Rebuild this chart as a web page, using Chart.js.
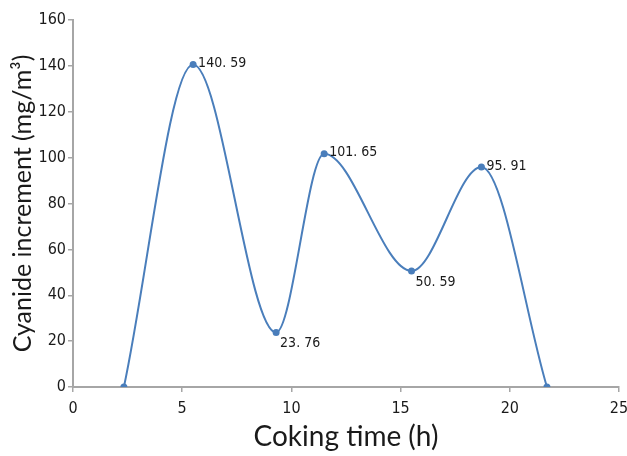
<!DOCTYPE html>
<html>
<head>
<meta charset="utf-8">
<script src="https://cdn.jsdelivr.net/npm/chart.js@4.4.1/dist/chart.umd.min.js"></script>
<style>
  html, body { margin: 0; padding: 0; background: #fff; }
  #wrap { width: 627px; height: 456px; }
</style>
</head>
<body>
<div id="wrap"><canvas id="c" width="627" height="456"></canvas></div>
<script>
// Coking time (h) and cyanide increment (mg/m³)
const cokingTime = [2.33, 5.5, 9.3, 11.5, 15.5, 18.7, 21.7];
const cyanideIncrement = [0, 140.59, 23.76, 101.65, 50.59, 95.91, 0];
const xTicks = [0, 5, 10, 15, 20, 25];
const yTicks = [0, 20, 40, 60, 80, 100, 120, 140, 160];

const tickFont = "'Liberation Sans Narrow', 'DejaVu Sans Condensed', Arial, sans-serif";
const titleFont = "Lato, 'Open Sans', sans-serif";
const lineColor = '#4A7EBB';
const axisColor = '#A6A6A6';

// where each value label sits relative to its point
const labelSide = { 1: 'right', 2: 'below', 3: 'right', 4: 'below', 5: 'right' };

const valueLabels = {
  id: 'valueLabels',
  afterDatasetsDraw(chart) {
    const ctx = chart.ctx;
    const meta = chart.getDatasetMeta(0);
    ctx.save();
    ctx.font = "14px " + tickFont;
    ctx.fillStyle = '#1a1a1a';
    ctx.textBaseline = 'middle';
    ctx.textAlign = 'left';
    meta.data.forEach((pt, i) => {
      const side = labelSide[i];
      if (!side) return;
      const txt = cyanideIncrement[i].toFixed(2).replace('.', '. ');
      if (side === 'right') {
        ctx.fillText(txt, pt.x + 5, pt.y - 1);
      } else {
        ctx.fillText(txt, pt.x + 4, pt.y + 11);
      }
    });
    ctx.restore();
  }
};

new Chart(document.getElementById('c'), {
  type: 'line',
  data: {
    datasets: [{
      data: cokingTime.map((t, i) => ({ x: t, y: cyanideIncrement[i] })),
      borderColor: lineColor,
      backgroundColor: lineColor,
      borderWidth: 2,
      pointRadius: 2.5,
      pointHoverRadius: 2.5,
      cubicInterpolationMode: 'monotone',
      fill: false
    }]
  },
  options: {
    responsive: false,
    animation: false,
    layout: { padding: { top: 20, right: 0, left: 8, bottom: 0 } },
    plugins: { legend: { display: false }, tooltip: { enabled: false } },
    scales: {
      x: {
        type: 'linear',
        min: 0, max: 25,
        afterBuildTicks(axis) { axis.ticks = xTicks.map(v => ({ value: v })); },
        afterFit(axis) { axis.height = 69; axis.paddingRight = 8; },
        border: { color: axisColor, width: 2 },
        grid: { drawOnChartArea: false, drawTicks: true, tickLength: 5, color: axisColor, lineWidth: 1.5 },
        ticks: { color: '#1a1a1a', font: { family: tickFont, size: 16 }, padding: 7 },
        title: { display: true, text: 'Coking time (h)', color: '#1a1a1a', font: { family: titleFont, size: 28 }, padding: { top: 0, bottom: 2 } }
      },
      y: {
        type: 'linear',
        min: 0, max: 160,
        afterBuildTicks(axis) { axis.ticks = yTicks.map(v => ({ value: v })); },
        afterFit(axis) { axis.width = 65; },
        border: { color: axisColor, width: 2 },
        grid: { drawOnChartArea: false, drawTicks: true, tickLength: 5, color: axisColor, lineWidth: 1.5 },
        ticks: { color: '#1a1a1a', font: { family: tickFont, size: 16 }, padding: 2 },
        title: { display: true, text: 'Cyanide increment (mg/m³)', color: '#1a1a1a', font: { family: titleFont, size: 25 }, padding: { top: 0, bottom: 2 } }
      }
    }
  },
  plugins: [valueLabels]
});
</script>
</body>
</html>
